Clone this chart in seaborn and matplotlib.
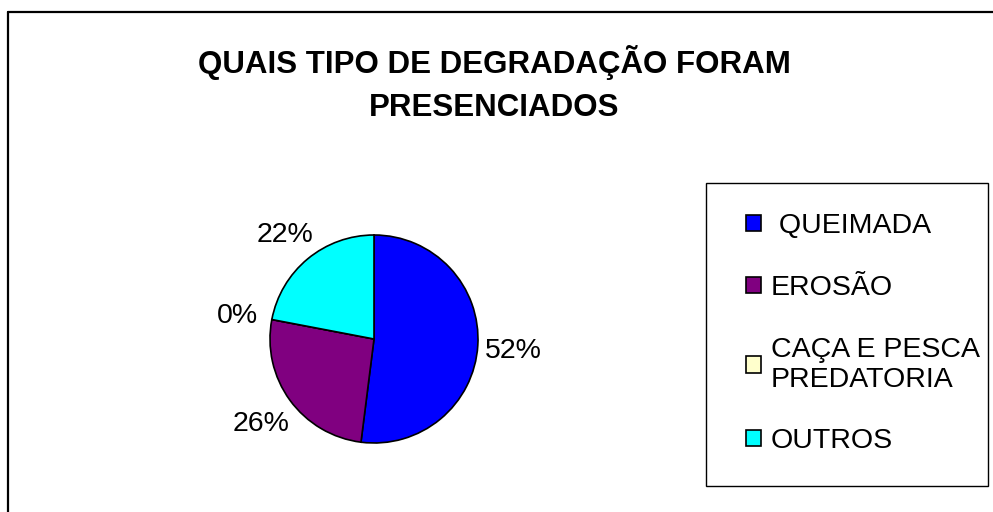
import matplotlib
matplotlib.use("Agg")
import matplotlib.pyplot as plt
from matplotlib.lines import Line2D
from matplotlib.patches import Rectangle
import seaborn as sns

# dados do gráfico
categorias = [" QUEIMADA", "EROSÃO", "CAÇA E PESCA\nPREDATORIA", "OUTROS"]
valores = [52, 26, 0, 22]
cores = ["#0000FF", "#800080", "#FFFFCC", "#00FFFF"]
titulo = "QUAIS TIPO DE DEGRADAÇÃO FORAM\nPRESENCIADOS"

sns.set_theme(style="white")
plt.rcParams["font.family"] = ["Liberation Sans", "DejaVu Sans"]
plt.rcParams["text.color"] = "black"
paleta = sns.color_palette(cores)

W, H = 993, 512
fig = plt.figure(figsize=(W / 100, H / 100), dpi=100)
fig.patch.set_facecolor("white")

# moldura externa (cortada à direita e embaixo)
fig.add_artist(Line2D([7.5 / W, 1.0], [1 - 11.5 / H, 1 - 11.5 / H], color="black", lw=1.6))
fig.add_artist(Line2D([7.5 / W, 7.5 / W], [1 - 11.5 / H, 0.0], color="black", lw=1.6))

# título
fig.text(494 / W, 1 - 84 / H, titulo, ha="center", va="center", fontsize=22.5,
         fontweight="bold", linespacing=1.55, multialignment="center", color="black")

# pizza
cx, cy, r, half = 374, 339, 104, 150
ax = fig.add_axes([(cx - half) / W, (H - cy - half) / H, 2 * half / W, 2 * half / H])
wedges, textos, pcts = ax.pie(valores, colors=paleta, startangle=90, counterclock=False,
                              autopct="%1.0f%%", pctdistance=1.34,
                              wedgeprops=dict(edgecolor="black", linewidth=1.2),
                              textprops=dict(fontsize=20.5, color="black"))
for p in pcts:
    p.set_va("center_baseline")
lim = half / r
ax.set_xlim(-lim, lim)
ax.set_ylim(-lim, lim)
ax.set_aspect("equal")
ax.axis("off")

# caixa da legenda
fig.add_artist(Rectangle((706 / W, 1 - 486 / H), 282 / W, 303 / H, transform=fig.transFigure,
                         facecolor="none", edgecolor="black", linewidth=1.0))

# legenda
leg = fig.legend(wedges, categorias, loc="upper left",
                 bbox_to_anchor=(718 / W, 1 - 185 / H, 270 / W, 0.0),
                 fontsize=20.5, frameon=False, handlelength=0.5, handleheight=0.5,
                 handletextpad=0.35, labelspacing=1.25, borderpad=1.0,
                 borderaxespad=0.0)
for t in leg.get_texts():
    t.set_color("black")

fig.savefig("out.png", dpi=100)
